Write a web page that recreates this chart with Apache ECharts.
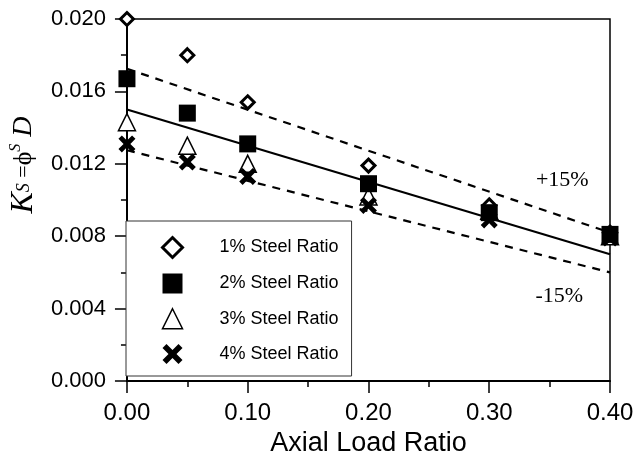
<!DOCTYPE html>
<html>
<head>
<meta charset="utf-8">
<script src="https://cdn.jsdelivr.net/npm/echarts@6/dist/echarts.min.js"></script>
<style>
  html, body { margin: 0; padding: 0; background: #fff; }
  #chart { width: 637px; height: 462px; }
</style>
</head>
<body>
<div id="chart"></div>
<script>
// axial load ratios where the columns were tested
const loadRatios = [0.00, 0.05, 0.10, 0.20, 0.30, 0.40];

// Ks values per steel ratio
const steel1 = [0.0200, 0.0180, 0.0154, 0.0119, 0.0097, 0.0082];
const steel2 = [0.0167, 0.0148, 0.0131, 0.0109, 0.0093, 0.0081];
const steel3 = [0.0143, 0.0130, 0.0120, 0.0102, 0.0094, 0.0080];
const steel4 = [0.0131, 0.0121, 0.0113, 0.0097, 0.0089, 0.0079];

// fitted line and the +/-15% bounds, at x = 0 and x = 0.40
const fitX = [0.0, 0.4];
const fitMean = [0.0150, 0.0070];
const fitUpper = [0.01725, 0.00820];
const fitLower = [0.01275, 0.00600];

const xTicks = [0.00, 0.10, 0.20, 0.30, 0.40];
const yTicks = [0.000, 0.004, 0.008, 0.012, 0.016, 0.020];

const seriesNames = ['1% Steel Ratio', '2% Steel Ratio', '3% Steel Ratio', '4% Steel Ratio'];

const crossPath = 'path://M0,4 L4,0 L10,6 L16,0 L20,4 L14,10 L20,16 L16,20 L10,14 L4,20 L0,16 L6,10 Z';

function pairs(xs, ys) {
    return xs.map((x, i) => [x, ys[i]]);
}

const chart = echarts.init(document.getElementById('chart'));

const sans = 'Liberation Sans, Arial, sans-serif';
const serif = 'Liberation Serif, DejaVu Serif, Times New Roman, serif';

function bandLabel(coord, text) {
    return {
        symbol: 'circle',
        symbolSize: 2,
        itemStyle: { color: 'rgba(0,0,0,0)' },
        label: { show: true, position: 'inside', fontFamily: serif, fontSize: 22, color: '#000' },
        data: [{ coord: coord, value: text, label: { formatter: text } }]
    };
}

chart.setOption({
    animation: false,
    backgroundColor: '#fff',
    grid: {
        left: 123, right: 27, top: 19, bottom: 81,
        show: true, borderColor: '#000', borderWidth: 1.5
    },
    legend: {
        orient: 'vertical',
        left: 126, top: 221,
        padding: [15, 13, 12, 35],
        itemWidth: 20, itemHeight: 20, itemGap: 14.5,
        backgroundColor: '#fff',
        borderColor: '#333', borderWidth: 1,
        textStyle: { fontFamily: sans, fontSize: 18, color: '#000', padding: [0, 0, 0, 32] },
        data: [
            { name: seriesNames[0], itemStyle: { color: '#fff', borderColor: '#000', borderWidth: 3 } },
            { name: seriesNames[1], itemStyle: { color: '#000', borderWidth: 0 } },
            { name: seriesNames[2], itemStyle: { color: '#fff', borderColor: '#000', borderWidth: 1.5 } },
            { name: seriesNames[3], itemStyle: { color: '#000', borderWidth: 0 } }
        ]
    },
    xAxis: {
        type: 'value',
        min: xTicks[0], max: xTicks[xTicks.length - 1], interval: 0.1,
        name: 'Axial Load Ratio',
        nameLocation: 'middle', nameGap: 47,
        nameTextStyle: { fontFamily: sans, fontSize: 27, color: '#000' },
        axisLine: { lineStyle: { color: '#000', width: 2 } },
        axisTick: { show: true, length: 12, lineStyle: { color: '#000', width: 1.5 } },
        minorTick: { show: true, splitNumber: 2, length: 6, lineStyle: { color: '#000', width: 1.5 } },
        axisLabel: {
            margin: 20, fontFamily: sans, fontSize: 24, color: '#000',
            formatter: v => v.toFixed(2)
        },
        splitLine: { show: false }
    },
    yAxis: {
        type: 'value',
        min: yTicks[0], max: yTicks[yTicks.length - 1], interval: 0.004,
        name: '{k|K}{s|S}{e| =}{p|ϕ}{t|S}{d| D}',
        nameLocation: 'middle', nameGap: 86, nameRotate: 90,
        nameTextStyle: {
            padding: [0, 0, 0, 70],
            rich: {
                k: { fontFamily: serif, fontStyle: 'italic', fontSize: 32, color: '#000' },
                s: { fontFamily: serif, fontStyle: 'italic', fontSize: 18, color: '#000' },
                e: { fontFamily: serif, fontSize: 22, color: '#000' },
                p: { fontFamily: serif, fontSize: 26, color: '#000' },
                t: { fontFamily: serif, fontStyle: 'italic', fontSize: 16, color: '#000', verticalAlign: 'top' },
                d: { fontFamily: serif, fontStyle: 'italic', fontSize: 28, color: '#000' }
            }
        },
        axisLine: { show: true, lineStyle: { color: '#000', width: 2 } },
        axisTick: { show: true, length: 12, lineStyle: { color: '#000', width: 1.5 } },
        minorTick: { show: true, splitNumber: 2, length: 6, lineStyle: { color: '#000', width: 1.5 } },
        axisLabel: {
            margin: 21, fontFamily: sans, fontSize: 22, color: '#000',
            formatter: v => v.toFixed(3)
        },
        splitLine: { show: false }
    },
    series: [
        {
            name: 'fit', type: 'line', z: 1, symbol: 'none', silent: true,
            data: pairs(fitX, fitMean),
            lineStyle: { color: '#000', width: 2.2 }
        },
        {
            name: 'upper', type: 'line', z: 1, symbol: 'none', silent: true,
            data: pairs(fitX, fitUpper),
            lineStyle: { color: '#000', width: 2.2, type: [8, 7] },
            markPoint: bandLabel([0.3605, 0.0111], '+15%')
        },
        {
            name: 'lower', type: 'line', z: 1, symbol: 'none', silent: true,
            data: pairs(fitX, fitLower),
            lineStyle: { color: '#000', width: 2.2, type: [8, 7] },
            markPoint: bandLabel([0.358, 0.0047], '-15%')
        },
        {
            name: seriesNames[2], type: 'scatter', clip: false, z: 3,
            symbol: 'triangle', symbolSize: 17,
            itemStyle: { color: '#fff', borderColor: '#000', borderWidth: 1.5, opacity: 1 },
            data: pairs(loadRatios, steel3)
        },
        {
            name: seriesNames[3], type: 'scatter', clip: false, z: 3,
            symbol: crossPath, symbolSize: 17,
            itemStyle: { color: '#000', opacity: 1 },
            data: pairs(loadRatios, steel4)
        },
        {
            name: seriesNames[0], type: 'scatter', clip: false, z: 3,
            symbol: 'diamond', symbolSize: 13,
            itemStyle: { color: '#fff', borderColor: '#000', borderWidth: 3, opacity: 1 },
            data: pairs(loadRatios, steel1)
        },
        {
            name: seriesNames[1], type: 'scatter', clip: false, z: 3,
            symbol: 'rect', symbolSize: 17,
            itemStyle: { color: '#000', opacity: 1 },
            data: pairs(loadRatios, steel2)
        }
    ]
});
</script>
</body>
</html>
